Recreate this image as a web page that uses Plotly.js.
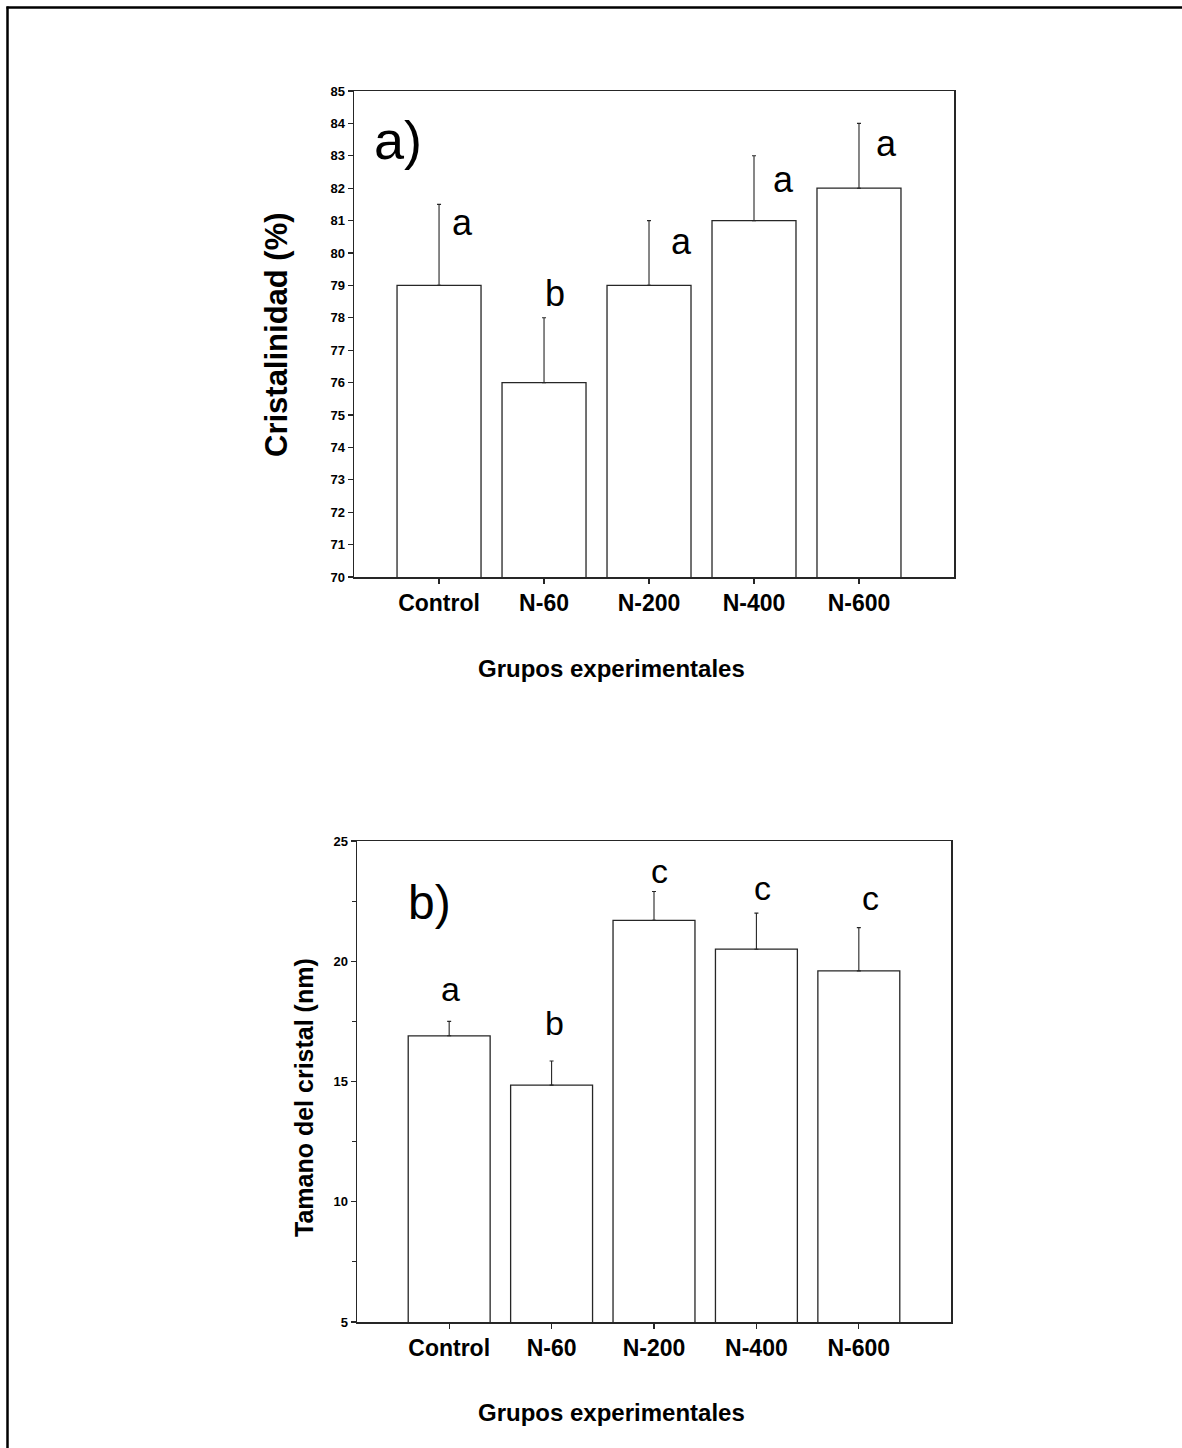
<!DOCTYPE html>
<html>
<head>
<meta charset="utf-8">
<script src="https://cdn.plot.ly/plotly-3.0.1.min.js"></script>
<style>
  html, body { margin: 0; padding: 0; background: #fff; }
  #chart { width: 1182px; height: 1448px; }
</style>
</head>
<body>
<div id="chart"></div>
<script>
// ---- Data ----
const categories = ['Control', 'N-60', 'N-200', 'N-400', 'N-600'];

// Panel a) Cristalinidad (%)
const crystallinity = [79, 76, 79, 81, 82];
const crystallinityErr = [2.5, 2, 2, 2, 2];
const crystallinityLetters = ['a', 'b', 'a', 'a', 'a'];

// Panel b) Tamano del cristal (nm)
const crystalSize = [16.9, 14.85, 21.7, 20.5, 19.6];
const crystalSizeErr = [0.6, 1.0, 1.2, 1.5, 1.8];
const crystalSizeLetters = ['a', 'b', 'c', 'c', 'c'];

const topTicks = [70, 71, 72, 73, 74, 75, 76, 77, 78, 79, 80, 81, 82, 83, 84, 85];

// ---- Styling ----
const FONT = 'Liberation Sans, Arial, Helvetica, sans-serif';
const W = 1182, H = 1448;
const px = v => v / W;
const py = v => (H - v) / H;
const LINE = '#262626';

// letter placement (layout offsets: category-index offset, y in axis units)
const topLetterPos = [[0.22, 80.95], [0.10, 78.75], [0.31, 80.37], [0.28, 82.28], [0.26, 83.39]];
const botLetterPos = [[0.01, 18.85], [0.03, 17.45], [0.05, 23.75], [0.06, 23.05], [0.11, 22.63]];

const barStyle = {
  color: '#ffffff',
  line: { color: LINE, width: 1.3 }
};

const traces = [
  {
    type: 'bar',
    x: categories,
    y: crystallinity,
    width: 0.8,
    marker: barStyle,
    error_y: {
      type: 'data', symmetric: false,
      array: crystallinityErr,
      arrayminus: crystallinityErr.map(() => 0),
      color: LINE, thickness: 1.1, width: 2
    },
    xaxis: 'x', yaxis: 'y',
    cliponaxis: true
  },
  {
    type: 'bar',
    x: categories,
    y: crystalSize,
    width: 0.8,
    marker: barStyle,
    error_y: {
      type: 'data', symmetric: false,
      array: crystalSizeErr,
      arrayminus: crystalSizeErr.map(() => 0),
      color: LINE, thickness: 1.1, width: 2
    },
    xaxis: 'x2', yaxis: 'y2',
    cliponaxis: true
  }
];

const axisCommon = {
  showline: true, mirror: true, linecolor: LINE, linewidth: 1.5,
  ticks: 'outside', ticklen: 5, tickwidth: 1.2, tickcolor: LINE,
  showgrid: false, zeroline: false, fixedrange: true
};

const annotations = [];
categories.forEach((c, i) => {
  annotations.push({
    xref: 'x', yref: 'y', x: i + topLetterPos[i][0], y: topLetterPos[i][1],
    text: crystallinityLetters[i], showarrow: false,
    font: { family: FONT, size: 36, color: '#000' },
    xanchor: 'center', yanchor: 'middle'
  });
  annotations.push({
    xref: 'x2', yref: 'y2', x: i + botLetterPos[i][0], y: botLetterPos[i][1],
    text: crystalSizeLetters[i], showarrow: false,
    font: { family: FONT, size: 34, color: '#000' },
    xanchor: 'center', yanchor: 'middle'
  });
});

// panel labels
annotations.push({
  xref: 'x', yref: 'y', x: -0.39, y: 83.5, text: 'a)', showarrow: false,
  font: { family: FONT, size: 54, color: '#000' }, xanchor: 'center', yanchor: 'middle'
});
annotations.push({
  xref: 'x2', yref: 'y2', x: -0.195, y: 22.43, text: 'b)', showarrow: false,
  font: { family: FONT, size: 48, color: '#000' }, xanchor: 'center', yanchor: 'middle'
});

// axis titles
annotations.push({
  xref: 'paper', yref: 'paper', x: px(276), y: py(335), text: 'Cristalinidad (%)',
  textangle: -90, showarrow: false,
  font: { family: FONT, size: 31, color: '#000', weight: 'bold' },
  xanchor: 'center', yanchor: 'middle'
});
annotations.push({
  xref: 'paper', yref: 'paper', x: px(611), y: py(668), text: 'Grupos experimentales',
  showarrow: false,
  font: { family: FONT, size: 24, color: '#000', weight: 'bold' },
  xanchor: 'center', yanchor: 'middle'
});
annotations.push({
  xref: 'paper', yref: 'paper', x: px(304), y: py(1097), text: 'Tamano del cristal (nm)',
  textangle: -90, showarrow: false,
  font: { family: FONT, size: 25, color: '#000', weight: 'bold' },
  xanchor: 'center', yanchor: 'middle'
});
annotations.push({
  xref: 'paper', yref: 'paper', x: px(611), y: py(1412), text: 'Grupos experimentales',
  showarrow: false,
  font: { family: FONT, size: 24, color: '#000', weight: 'bold' },
  xanchor: 'center', yanchor: 'middle'
});

const layout = {
  width: W, height: H,
  margin: { l: 0, r: 0, t: 0, b: 0 },
  paper_bgcolor: '#ffffff', plot_bgcolor: '#ffffff',
  showlegend: false,
  font: { family: FONT, color: '#000' },
  xaxis: Object.assign({}, axisCommon, {
    domain: [px(354), px(954)], anchor: 'y',
    type: 'category', range: [-0.81, 4.905],
    tickfont: { family: FONT, size: 23, color: '#000', weight: 'bold' }
  }),
  yaxis: Object.assign({}, axisCommon, {
    domain: [py(577), py(91)], anchor: 'x',
    range: [70, 85],
    tickvals: topTicks,
    ticktext: topTicks.map(String),
    tickfont: { family: FONT, size: 13, color: '#000', weight: 'bold' }
  }),
  xaxis2: Object.assign({}, axisCommon, {
    domain: [px(357), px(951)], anchor: 'y2',
    type: 'category', range: [-0.9, 4.9],
    tickfont: { family: FONT, size: 23, color: '#000', weight: 'bold' }
  }),
  yaxis2: Object.assign({}, axisCommon, {
    domain: [py(1322), py(841)], anchor: 'x2',
    range: [5, 25], dtick: 5, tick0: 0,
    minor: { dtick: 2.5, ticks: 'outside', ticklen: 4, tickwidth: 1.2, tickcolor: LINE, showgrid: false },
    tickfont: { family: FONT, size: 13, color: '#000', weight: 'bold' }
  }),
  annotations: annotations,
  shapes: [
    { type: 'line', xref: 'paper', yref: 'paper', x0: px(7.5), x1: px(7.5), y0: py(6.5), y1: 0,
      line: { color: '#000', width: 2.5 } },
    { type: 'line', xref: 'paper', yref: 'paper', x0: px(6.5), x1: 1, y0: py(7.5), y1: py(7.5),
      line: { color: '#000', width: 2.5 } }
  ]
};

Plotly.newPlot('chart', traces, layout, { staticPlot: true, displayModeBar: false });
</script>
</body>
</html>
